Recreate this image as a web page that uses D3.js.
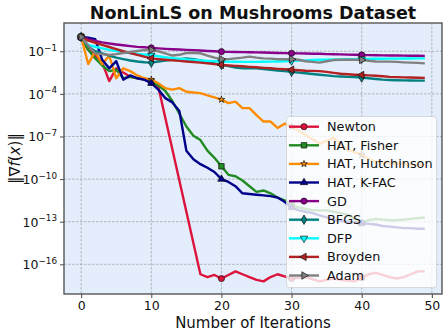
<!DOCTYPE html>
<html><head><meta charset="utf-8">
<script src="https://cdn.jsdelivr.net/npm/d3@7"></script>
<style>body{margin:0;background:#fff}svg{display:block}text{font-family:"DejaVu Sans",sans-serif}</style>
</head><body>
<svg id="c" width="448" height="336"></svg>
<script>
// Iterations 0..49; values are log10 of ||grad f(x)||
const iterations = d3.range(0, 50);
const newtonLog = [0,-0.9,-1.3,-1.8,-3.1,-2.2,-2.5,-2.8,-2.9,-3.0,-3.2,-3.5,-5.7,-7.9,-10.1,-12.3,-14.5,-16.7,-16.9,-16.75,-17.0,-16.75,-16.5,-16.7,-16.9,-17.1,-17.2,-16.9,-16.7,-16.85,-17.0,-16.95,-16.9,-17.05,-17.2,-17.1,-17.0,-17.1,-17.15,-17.2,-16.95,-16.7,-16.6,-16.75,-16.9,-17.0,-16.9,-16.7,-16.5,-16.5];
const fisherLog = [0,-0.9,-1.5,-2.0,-2.4,-2.3,-2.9,-2.8,-2.9,-3.0,-3.15,-3.4,-3.8,-4.5,-5.4,-6.3,-6.95,-7.25,-8.0,-8.5,-9.1,-9.7,-9.8,-10.1,-10.5,-10.9,-10.8,-11.0,-11.3,-11.5,-11.8,-12.0,-12.1,-12.2,-12.2,-12.2,-12.3,-12.4,-12.5,-12.8,-13.1,-12.9,-12.8,-12.85,-12.9,-12.9,-12.85,-12.8,-12.75,-12.7];
const hutchinsonLog = [0,-1.9,-1.0,-1.9,-1.3,-2.9,-2.2,-2.4,-2.7,-2.9,-3.0,-3.25,-3.6,-3.7,-3.6,-3.85,-3.9,-3.95,-4.1,-4.25,-4.4,-4.65,-4.55,-5.0,-5.0,-5.5,-5.95,-5.95,-6.4,-6.1,-6.3,-6.6,-6.9,-7.2,-7.5,-7.3,-7.1,-7.6,-7.95,-8.1,-8.3,-8.55,-8.8,-8.85,-8.9,-8.9,-8.95,-9.0,-9.0,-9.0];
const kfacLog = [0,-0.05,-0.15,-1.6,-2.2,-1.7,-3.0,-2.7,-2.9,-3.0,-3.25,-3.7,-4.3,-4.6,-5.2,-8.0,-8.6,-8.95,-9.2,-9.5,-10.0,-10.2,-10.5,-11.0,-11.05,-11.1,-11.15,-11.2,-11.3,-11.6,-12.0,-12.2,-12.3,-12.4,-12.55,-12.7,-12.85,-12.95,-13.0,-13.05,-13.1,-13.15,-13.2,-13.3,-13.35,-13.4,-13.45,-13.45,-13.5,-13.5];
const gdLog = [0,-0.15,-0.27,-0.37,-0.45,-0.52,-0.58,-0.64,-0.69,-0.72,-0.76,-0.8,-0.83,-0.86,-0.88,-0.9,-0.92,-0.95,-0.98,-1.0,-1.03,-1.04,-1.05,-1.06,-1.07,-1.08,-1.09,-1.1,-1.12,-1.13,-1.14,-1.15,-1.16,-1.17,-1.18,-1.2,-1.21,-1.22,-1.24,-1.25,-1.26,-1.27,-1.28,-1.29,-1.3,-1.3,-1.31,-1.32,-1.32,-1.33];
const bfgsLog = [0,-0.67,-1.0,-1.15,-1.3,-1.45,-1.55,-1.65,-1.72,-1.77,-1.8,-1.72,-1.65,-1.6,-1.55,-1.5,-1.55,-1.65,-1.75,-1.85,-1.96,-2.05,-2.15,-2.2,-2.2,-2.2,-2.25,-2.3,-2.35,-2.4,-2.44,-2.5,-2.55,-2.6,-2.65,-2.7,-2.75,-2.78,-2.8,-2.82,-2.85,-2.9,-2.95,-3.0,-3.02,-3.04,-3.05,-3.06,-3.07,-3.07];
const dfpLog = [0,-0.56,-0.68,-0.8,-0.9,-0.98,-1.05,-1.12,-1.18,-1.23,-1.28,-1.35,-1.42,-1.48,-1.53,-1.58,-1.62,-1.65,-1.68,-1.7,-1.72,-1.73,-1.74,-1.75,-1.75,-1.75,-1.74,-1.73,-1.72,-1.7,-1.68,-1.66,-1.64,-1.62,-1.6,-1.59,-1.58,-1.57,-1.56,-1.55,-1.55,-1.54,-1.53,-1.53,-1.52,-1.52,-1.51,-1.51,-1.5,-1.5];
const broydenLog = [0,-0.25,-0.4,-0.55,-0.7,-0.85,-1.0,-1.12,-1.25,-1.38,-1.5,-1.55,-1.6,-1.64,-1.68,-1.72,-1.76,-1.8,-1.85,-1.9,-1.96,-2.0,-2.03,-2.06,-2.1,-2.13,-2.17,-2.2,-2.24,-2.27,-2.3,-2.34,-2.37,-2.38,-2.4,-2.45,-2.52,-2.58,-2.62,-2.65,-2.67,-2.7,-2.72,-2.76,-2.8,-2.82,-2.84,-2.85,-2.86,-2.87];
const adamLog = [0,-0.6,-1.14,-1.2,-1.26,-1.2,-1.12,-1.05,-0.98,-0.92,-0.9,-1.0,-1.15,-1.3,-1.25,-1.12,-1.1,-1.14,-1.3,-1.45,-1.56,-1.55,-1.5,-1.45,-1.38,-1.45,-1.5,-1.52,-1.56,-1.56,-1.56,-1.6,-1.7,-1.75,-1.8,-1.7,-1.62,-1.6,-1.6,-1.6,-1.61,-1.67,-1.72,-1.73,-1.73,-1.75,-1.78,-1.8,-1.82,-1.85];

const seriesNames = ["Newton","HAT, Fisher","HAT, Hutchinson","HAT, K-FAC","GD","BFGS","DFP","Broyden","Adam"];
const seriesLogs = [newtonLog,fisherLog,hutchinsonLog,kfacLog,gdLog,bfgsLog,dfpLog,broydenLog,adamLog];
const seriesColors = ["#dc143c","#228b22","#ff8c00","#00008b","#8b008b","#008080","#00ffff","#b22222","#808080"];
const seriesMarkers = ["circle","square","star","triangleUp","circle","diamond","triangleDown","triangleLeft","triangleRight"];
const xTicks = [0,10,20,30,40,50];
const yTickExps = [-1,-4,-7,-10,-13,-16];
const titleText = "NonLinLS on Mushrooms Dataset";
const xLabelText = "Number of Iterations";

const W=448,H=336, m={l:64,r:6,t:23,b:42};
const svg=d3.select("#c");
const x=d3.scaleLinear().domain([-2.45,51.45]).range([m.l,W-m.r]);
const y=d3.scaleLog().domain([Math.pow(10,-18.09),Math.pow(10,0.99)]).range([H-m.b,m.t]);

svg.append("rect").attr("x",m.l).attr("y",m.t).attr("width",W-m.r-m.l).attr("height",H-m.b-m.t).attr("fill","#e3edfb");

const grid=svg.append("g").attr("stroke","#a3a8b0").attr("stroke-width",0.8).attr("stroke-dasharray","2.6,1.4");
xTicks.forEach(t=>grid.append("line").attr("x1",x(t)).attr("x2",x(t)).attr("y1",m.t).attr("y2",H-m.b));
yTickExps.forEach(e=>grid.append("line").attr("x1",m.l).attr("x2",W-m.r).attr("y1",y(Math.pow(10,e))).attr("y2",y(Math.pow(10,e))));

svg.append("clipPath").attr("id","pc").append("rect").attr("x",m.l).attr("y",m.t).attr("width",W-m.r-m.l).attr("height",H-m.b-m.t);
const plot=svg.append("g").attr("clip-path","url(#pc)");

function markerPath(kind){
  const s=d3.symbol();
  if(kind==="circle") return {d:s.type(d3.symbolCircle).size(30)(),r:0};
  if(kind==="square") return {d:s.type(d3.symbolSquare).size(30)(),r:0};
  if(kind==="star") return {d:s.type(d3.symbolStar).size(14)(),r:0};
  if(kind==="diamond") return {d:s.type(d3.symbolDiamond).size(26)(),r:0};
  const tri=s.type(d3.symbolTriangle).size(24)();
  return {d:tri,r:{triangleUp:0,triangleDown:180,triangleLeft:-90,triangleRight:90}[kind]};
}

const line=d3.line().x((d,i)=>x(iterations[i])).y(d=>y(Math.pow(10,d)));
seriesLogs.forEach((vals,k)=>{
  plot.append("path").datum(vals).attr("d",line).attr("fill","none").attr("stroke",seriesColors[k]).attr("stroke-width",2.4).attr("stroke-linejoin","round");
  const mk=markerPath(seriesMarkers[k]);
  iterations.filter(i=>i%10===0).forEach(i=>{
    plot.append("path").attr("d",mk.d).attr("transform",`translate(${x(i)},${y(Math.pow(10,vals[i]))}) rotate(${mk.r})`)
      .attr("fill",seriesColors[k]).attr("stroke","#111").attr("stroke-width",0.7);
  });
});

// frame
svg.append("rect").attr("x",m.l).attr("y",m.t).attr("width",W-m.r-m.l).attr("height",H-m.b-m.t).attr("fill","none").attr("stroke","#4a4a4a").attr("stroke-width",1.3);

// x axis
const xa=svg.append("g").attr("transform",`translate(0,${H-m.b})`).call(d3.axisBottom(x).tickValues(xTicks).tickSize(4).tickPadding(3).tickFormat(d3.format("d")));
xa.select(".domain").remove();
xa.selectAll("line").attr("stroke","#4a4a4a");
xa.selectAll("text").attr("font-size","12.5px").attr("fill","#111").attr("font-family","DejaVu Sans");

// y axis
const ya=svg.append("g").attr("transform",`translate(${m.l},0)`).call(d3.axisLeft(y).tickValues(yTickExps.map(e=>Math.pow(10,e))).tickSize(4).tickFormat(""));
ya.select(".domain").remove();
ya.selectAll("line").attr("stroke","#4a4a4a");
yTickExps.forEach(e=>{
  const t=svg.append("text").attr("x",m.l-7).attr("y",y(Math.pow(10,e))+5).attr("text-anchor","end").attr("font-size","12.5px").attr("fill","#111");
  t.append("tspan").text("10");
  t.append("tspan").attr("dy",-5.5).attr("font-size","8.8px").text("\u2212"+Math.abs(e));
});

// title and labels
svg.append("text").attr("x",(m.l+W-m.r)/2).attr("y",19).attr("text-anchor","middle").attr("font-weight","bold").attr("font-size","17.5px").attr("fill","#111").text(titleText);
svg.append("text").attr("x",(m.l+W-m.r)/2).attr("y",328).attr("text-anchor","middle").attr("font-size","15px").attr("fill","#111").text(xLabelText);
const yl=svg.append("text").attr("transform",`translate(20,${(m.t+H-m.b)/2}) rotate(-90)`).attr("text-anchor","middle").attr("font-size","15px").attr("fill","#111");
yl.append("tspan").text("\u2016\u2207");
yl.append("tspan").attr("font-style","italic").text("f");
yl.append("tspan").text("(");
yl.append("tspan").attr("font-style","italic").text("x");
yl.append("tspan").text(")\u2016");

// legend
const lg=svg.append("g");
lg.append("rect").attr("x",286.5).attr("y",116.5).attr("width",150).attr("height",171).attr("rx",3).attr("fill","#fff").attr("fill-opacity",0.8).attr("stroke","#d0d0d0").attr("stroke-width",0.8);
seriesNames.forEach((n,k)=>{
  const cy=126.7+k*18.6;
  lg.append("line").attr("x1",289).attr("x2",319).attr("y1",cy).attr("y2",cy).attr("stroke",seriesColors[k]).attr("stroke-width",2.4);
  const mk=markerPath(seriesMarkers[k]);
  lg.append("path").attr("d",mk.d).attr("transform",`translate(304,${cy}) rotate(${mk.r})`).attr("fill",seriesColors[k]).attr("stroke","#111").attr("stroke-width",0.7);
  lg.append("text").attr("x",327).attr("y",cy+4.5).attr("font-size","12.8px").attr("fill","#111").text(n);
});
</script>
</body></html>
